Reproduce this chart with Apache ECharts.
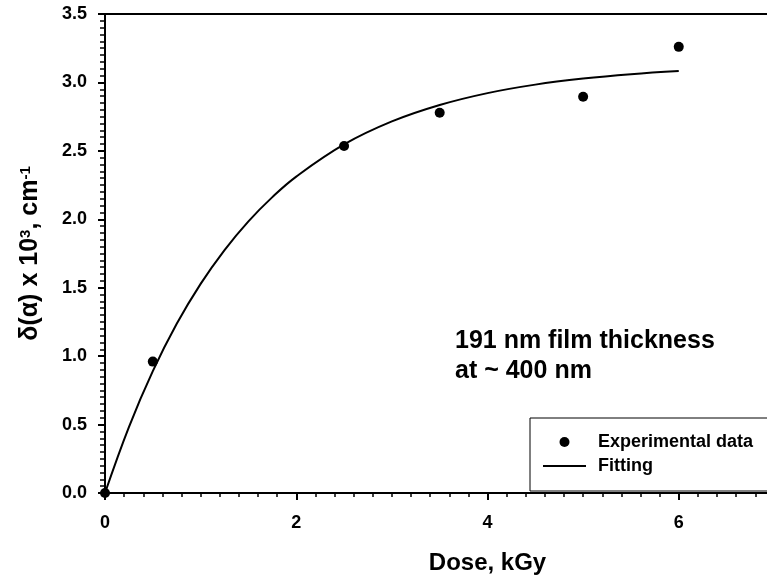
<!DOCTYPE html>
<html lang="en">
  <head>
    <meta charset="UTF-8" />
    <title>Dose response</title>
    <script src="https://cdn.jsdelivr.net/npm/echarts@6/dist/echarts.min.js"></script>
    <style>
      html,
      body {
        margin: 0;
        padding: 0;
        background: #fff;
      }
    </style>
  </head>
  <body>
    <div id="main" style="width: 767px; height: 581px"></div>
    <script type="text/javascript">
      // measured points (dose in kGy, delta alpha x 10^3 in cm^-1)
      var expDose = [0, 0.5, 2.5, 3.5, 5, 6];
      var expValue = [0, 0.96, 2.535, 2.778, 2.895, 3.26];

      // fitted curve
      var fitDose = [0, 0.25, 0.5, 0.75, 1, 1.25, 1.5, 1.75, 2, 2.5, 3, 3.5, 4, 4.5, 5, 5.5, 6];
      var fitValue = [0, 0.482, 0.89, 1.236, 1.528, 1.775, 1.985, 2.162, 2.312, 2.547, 2.715, 2.835, 2.922, 2.984, 3.028, 3.06, 3.083];

      var font = "Liberation Sans, Arial, sans-serif";

      var myChart = echarts.init(document.getElementById("main"));

      var option = {
        animation: false,
        grid: {
          left: 105,
          top: 14,
          bottom: 88,
          right: -103,
          outerBoundsMode: "none",
          show: true,
          borderColor: "#000",
          borderWidth: 2,
        },
        xAxis: {
          type: "value",
          min: 0,
          max: 8,
          interval: 2,
          name: "Dose, kGy",
          nameLocation: "middle",
          nameGap: 58,
          nameTextStyle: { fontFamily: font, fontWeight: "bold", fontSize: 24, color: "#000" },
          axisLine: { onZero: false, lineStyle: { color: "#000", width: 2 } },
          axisTick: { length: 7, lineStyle: { color: "#000", width: 2 } },
          minorTick: { show: true, splitNumber: 10, length: 4, lineStyle: { color: "#000", width: 1.5 } },
          splitLine: { show: false },
          axisLabel: { margin: 21, fontFamily: font, fontWeight: "bold", fontSize: 18, color: "#000" },
        },
        yAxis: {
          type: "value",
          min: 0,
          max: 3.5,
          interval: 0.5,
          name: "δ(α) x 10{sup|3}, cm{sup|-1}",
          nameLocation: "middle",
          nameRotate: 90,
          nameGap: 62,
          nameTextStyle: {
            fontFamily: font,
            fontWeight: "bold",
            fontSize: 25,
            color: "#000",
            rich: {
              sup: { fontFamily: font, fontWeight: "bold", fontSize: 15, color: "#000", verticalAlign: "top" },
            },
          },
          axisLine: { onZero: false, lineStyle: { color: "#000", width: 2 } },
          axisTick: { length: 7, lineStyle: { color: "#000", width: 2 } },
          minorTick: { show: true, splitNumber: 10, length: 5, lineStyle: { color: "#000", width: 1.5 } },
          splitLine: { show: false },
          axisLabel: {
            margin: 18,
            fontFamily: font,
            fontWeight: "bold",
            fontSize: 18,
            color: "#000",
            formatter: function (v) {
              return v.toFixed(1);
            },
          },
        },
        legend: {
          orient: "vertical",
          left: 530,
          top: 418,
          padding: [15, 40, 16, 12],
          itemGap: 6,
          itemWidth: 43,
          itemHeight: 10,
          borderColor: "#000",
          borderWidth: 1,
          backgroundColor: "#fff",
          textStyle: { fontFamily: font, fontWeight: "bold", fontSize: 18, color: "#000", padding: [0, 0, 0, 7] },
          data: [
            { name: "Experimental data", icon: "circle", itemStyle: { opacity: 1 } },
            { name: "Fitting", itemStyle: { opacity: 0 } },
          ],
        },
        graphic: [
          {
            type: "text",
            left: 455,
            top: 326,
            style: {
              text: "191 nm film thickness\nat ~ 400 nm",
              font: "bold 25px " + font,
              lineHeight: 30,
              fill: "#000",
            },
          },
        ],
        series: [
          {
            name: "Fitting",
            type: "line",
            smooth: 0.4,
            symbol: "none",
            showSymbol: false,
            lineStyle: { color: "#000", width: 2 },
            itemStyle: { color: "#000" },
            data: fitDose.map(function (d, i) {
              return [d, fitValue[i]];
            }),
            z: 2,
          },
          {
            name: "Experimental data",
            type: "scatter",
            symbolSize: 10,
            itemStyle: { color: "#000", opacity: 1 },
            data: expDose.map(function (d, i) {
              return [d, expValue[i]];
            }),
            z: 3,
          },
        ],
      };
      myChart.setOption(option);
    </script>
  </body>
</html>
